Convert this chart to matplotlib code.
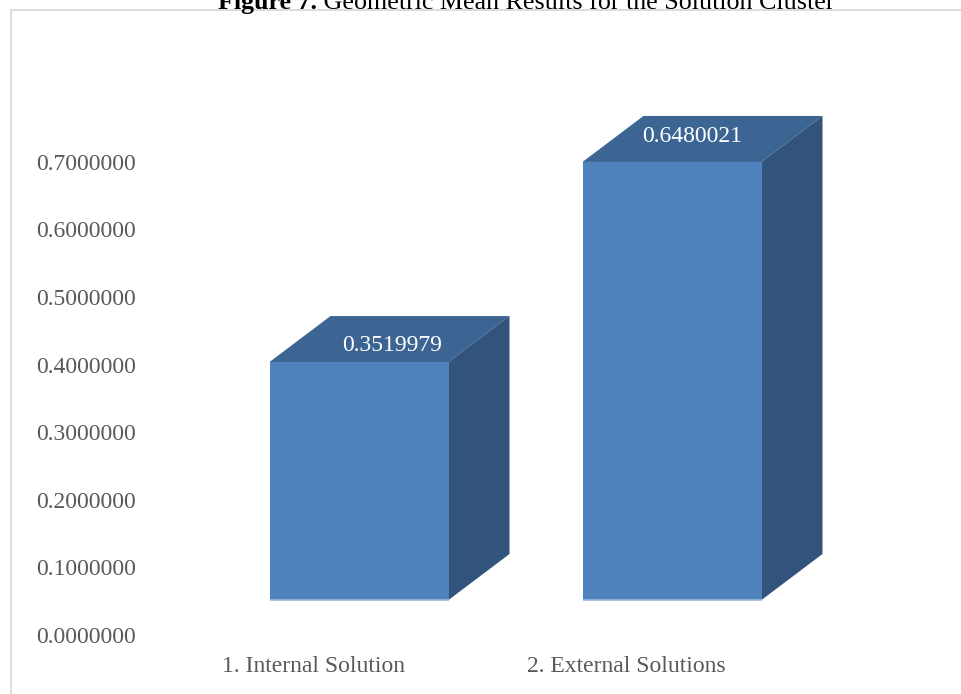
import matplotlib
matplotlib.use("Agg")
import matplotlib.pyplot as plt
from matplotlib.patches import Polygon, Rectangle

# ---- data ----
categories = ["1. Internal Solution", "2. External Solutions"]
values = [0.3519979, 0.6480021]
value_labels = ["0.3519979", "0.6480021"]
tick_values = [0.0, 0.1, 0.2, 0.3, 0.4, 0.5, 0.6, 0.7]

# ---- layout (pixels) ----
W, H, DPI = 961, 694, 100
PX_PER_UNIT = 676.0          # vertical pixels per 1.0 of value
BASE_Y = 600.0               # pixel row of the bars' front baseline (from top)
WALL_SHIFT = 35.0            # tick scale sits this far below the front baseline
FIRST_X, STEP_X = 359.0, 313.0   # front-face centre of first bar, spacing
AX_LEFT = 146.0
BAR_W_PX = 179.0
DEPTH_X_PX, DEPTH_Y_PX = 61.0, 46.0

FRONT = "#4F81BD"
TOP = "#3C6593"
SIDE = "#32537B"
TEXT_GRAY = "#595959"
SERIF = ["Liberation Serif", "DejaVu Serif"]

fig = plt.figure(figsize=(W / DPI, H / DPI), dpi=DPI)
ax = fig.add_axes([AX_LEFT / W, 0, 1 - AX_LEFT / W, 1])
ax_t = fig.add_axes([AX_LEFT / W, 0, 1 - AX_LEFT / W, 1], sharex=ax)

# data limits so that value 0 sits at BASE_Y
y_lo = -(H - BASE_Y) / PX_PER_UNIT
y_hi = BASE_Y / PX_PER_UNIT
ax.set_ylim(y_lo, y_hi)
shift = WALL_SHIFT / PX_PER_UNIT
ax_t.set_ylim(y_lo + shift, y_hi + shift)
ax.set_xlim((AX_LEFT - FIRST_X) / STEP_X, (W - FIRST_X) / STEP_X)

for a in (ax, ax_t):
    for s in a.spines.values():
        s.set_visible(False)
    a.patch.set_visible(False)
    a.tick_params(length=0)
ax.set_xticks([])
ax.set_yticks([])
ax_t.tick_params(axis="x", labelbottom=False)
ax_t.set_yticks(tick_values, labels=[f"{t:.7f}" for t in tick_values])
ax_t.tick_params(axis="y", pad=7.2, labelsize=17, labelcolor=TEXT_GRAY)
for lbl in ax_t.get_yticklabels():
    lbl.set_fontfamily(SERIF)

bw = BAR_W_PX / STEP_X
dx = DEPTH_X_PX / STEP_X
dy = DEPTH_Y_PX / PX_PER_UNIT
xs = list(range(len(values)))

# front faces
ax.bar(xs, values, width=bw, bottom=0, color=FRONT, edgecolor="none", zorder=3)
for i, v in zip(xs, values):
    x0, x1 = i - bw / 2, i + bw / 2
    # top face
    ax.add_patch(Polygon([(x0, v), (x1, v), (x1 + dx, v + dy), (x0 + dx, v + dy)],
                         closed=True, facecolor=TOP, edgecolor="none", zorder=2))
    # right side face
    ax.add_patch(Polygon([(x1, 0), (x1 + dx, dy), (x1 + dx, v + dy), (x1, v)],
                         closed=True, facecolor=SIDE, edgecolor="none", zorder=2))
    # light rim along the front bottom edge
    ax.plot([x0, x1], [0, 0], color="#9DB9DE", lw=1.2, zorder=4, solid_capstyle="butt")

# value labels on the top faces
label_nudge = [(3, -6), (-10, 2)]
for i, v, t, (nx, ny) in zip(xs, values, value_labels, label_nudge):
    ax.annotate(t, xy=(i + dx / 2, v + dy / 2), xytext=(nx, ny),
                textcoords="offset pixels", ha="center", va="center",
                color="white", fontsize=17, family=SERIF, zorder=5)

# category labels on the floor
cat_y = -66 / PX_PER_UNIT
cat_dx = -46 / STEP_X
for i, c in zip(xs, categories):
    ax.text(i + cat_dx, cat_y, c, ha="center", va="center", color=TEXT_GRAY,
            fontsize=17, family=SERIF)

# chart border
fig.patches.append(Rectangle((11 / W, -0.05), 1.1, (H - 10) / H + 0.05,
                             transform=fig.transFigure, fill=False,
                             edgecolor="#D9D9D9", lw=1.3, zorder=0))

# caption
cap_y = (H - 9) / H
t1 = fig.text(218 / W, cap_y, "Figure 7.", ha="left", va="baseline",
              fontsize=18.7, fontweight="bold", family=SERIF, color="black")
fig.canvas.draw()
bb = t1.get_window_extent()
fig.text(bb.x1 / W, cap_y, " Geometric Mean Results for the Solution Cluster",
         ha="left", va="baseline", fontsize=18.7, family=SERIF, color="black")

fig.savefig("out.png", dpi=DPI)
